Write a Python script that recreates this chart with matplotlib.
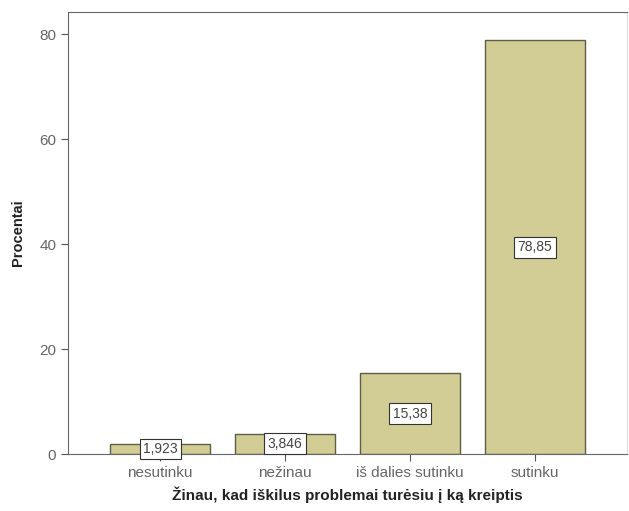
import matplotlib.pyplot as plt

plt.rcParams['font.family'] = ['Liberation Sans', 'DejaVu Sans']

kategorijos = ['nesutinku', 'nežinau', 'iš dalies sutinku', 'sutinku']
procentai = [1.923, 3.846, 15.38, 78.85]
etiketes = ['1,923', '3,846', '15,38', '78,85']

fig = plt.figure(figsize=(6.29, 5.11), dpi=100)
ax = fig.add_axes([0.108, 0.1115, 0.889, 0.865])

x = range(len(kategorijos))
ax.bar(x, procentai, width=0.8, color='#d1cd95', edgecolor='#5e5d45', linewidth=1)

for i, (v, t) in enumerate(zip(procentai, etiketes)):
    ax.text(i, v / 2, t, ha='center', va='center', fontsize=10, color='#444444',
            bbox=dict(boxstyle='square,pad=0.25', fc='white', ec='#333333', lw=0.8))

ax.set_xlim(-0.74, 3.74)
ax.set_ylim(0, 84.2)
ax.set_xticks(list(x))
ax.set_xticklabels(kategorijos)
ax.set_yticks([0, 20, 40, 60, 80])

for s in ax.spines.values():
    s.set_color('#666666')
ax.spines['right'].set_color('#dddddd')
ax.tick_params(colors='#555555', labelcolor='#666666', labelsize=11, length=5)

ax.set_ylabel('Procentai', fontsize=10.5, fontweight='bold', color='#222222', labelpad=10)
ax.set_xlabel('Žinau, kad iškilus problemai turėsiu į ką kreiptis',
              fontsize=11, fontweight='bold', color='#222222', labelpad=5)

fig.savefig('out.png', dpi=100)
